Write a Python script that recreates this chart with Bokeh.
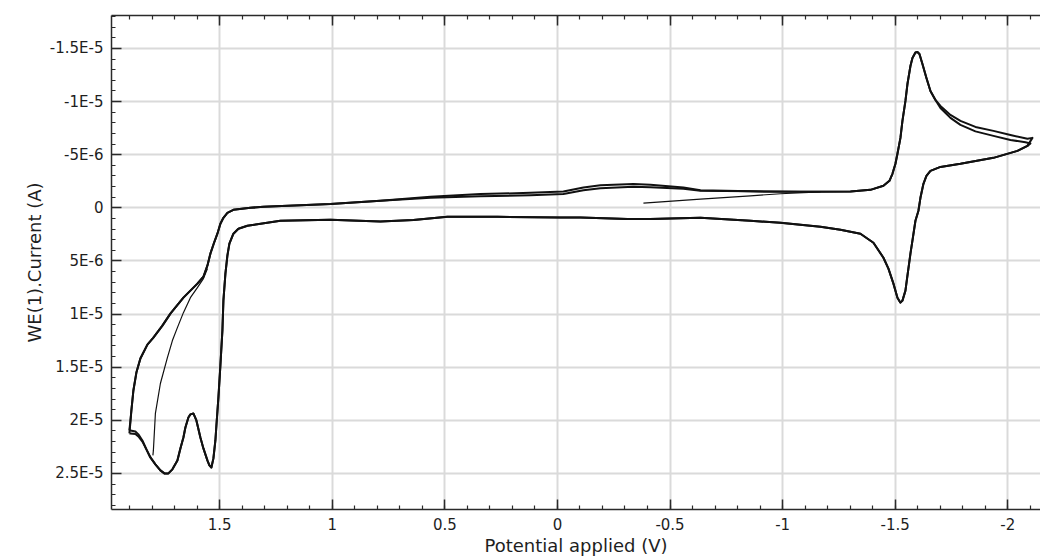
from bokeh.plotting import figure
from bokeh.models import Range1d, FixedTicker, LinearAxis, CustomLabelingPolicy
from bokeh.embed import file_html
from bokeh.resources import INLINE

# ---------------- data (potential in V, current in microamps) ----------------
UA = 1e-6

# cycle 1: forward (upper) branch, from the left switching point to the right one
c1_up_v = [1.9005, 1.8961, 1.8917, 1.8828, 1.8695, 1.8517, 1.8206, 1.7940, 1.7540, 1.7185,
           1.6607, 1.5986, 1.5719, 1.5542, 1.5409, 1.5231, 1.5098, 1.4965, 1.4831, 1.4654,
           1.4387, 1.3632, 1.3055, 1.1412, 1.0080, 0.7860, 0.5639, 0.3419, 0.1199, -0.0266,
           -0.1155, -0.1909, -0.3375, -0.4130, -0.5595, -0.6350, -0.8570, -1.0790, -1.3011, -1.3899,
           -1.4476, -1.4743, -1.4876, -1.5009, -1.5098, -1.5231, -1.5320, -1.5453, -1.5542, -1.5675,
           -1.5764, -1.5897, -1.5986, -1.6075, -1.6208, -1.6385, -1.6563, -1.6785, -1.7007, -1.7451,
           -1.7895, -1.8561, -1.9361, -2.0115, -2.0870, -2.1092]
c1_up_i = [20.96, 20.02, 19.08, 17.20, 15.51, 14.19, 12.88, 12.22, 11.09, 9.96,
           8.46, 7.14, 6.49, 5.45, 4.32, 3.20, 2.44, 1.50, 0.94, 0.47,
           0.19, 0.00, -0.09, -0.24, -0.35, -0.66, -1.03, -1.29, -1.41, -1.53,
           -1.91, -2.13, -2.23, -2.16, -1.91, -1.66, -1.55, -1.52, -1.53, -1.69,
           -2.07, -2.54, -3.20, -4.14, -5.08, -6.58, -8.18, -10.06, -11.65, -13.35,
           -14.10, -14.61, -14.66, -14.47, -13.53, -12.22, -11.00, -10.15, -9.59, -8.74,
           -8.18, -7.61, -7.24, -6.86, -6.49, -6.58]

# cycle 1: reverse (lower) branch, from the right switching point back to the left one
c1_dn_v = [-2.1092, -2.0870, -2.0426, -1.9361, -1.7895, -1.7007, -1.6563, -1.6385, -1.6252, -1.6119,
           -1.6030, -1.5897, -1.5764, -1.5675, -1.5542, -1.5453, -1.5320, -1.5231, -1.5098, -1.4920,
           -1.4698, -1.4476, -1.4032, -1.3455, -1.2567, -1.1679, -1.0790, -0.9902, -0.8570, -0.6350,
           -0.4130, -0.3108, -0.1021, -0.0133, 0.2664, 0.4885, 0.6394, 0.7860, 1.0080, 1.2300,
           1.3766, 1.4165, 1.4387, 1.4565, 1.4654, 1.4742, 1.4831, 1.4876, 1.4965, 1.5053,
           1.5142, 1.5187, 1.5275, 1.5364, 1.5453, 1.5542, 1.5719, 1.5853, 1.6030, 1.6164,
           1.6297, 1.6386, 1.6519, 1.6607, 1.6741, 1.6874, 1.7096, 1.7274, 1.7451, 1.7629,
           1.7851, 1.8073, 1.8250, 1.8428, 1.8606, 1.8739, 1.8961, 1.9005]
c1_dn_i = [-6.58, -5.83, -5.36, -4.70, -4.14, -3.85, -3.48, -3.01, -2.26, -0.94,
           0.28, 1.22, 3.10, 4.32, 6.39, 7.80, 8.74, 8.93, 8.46, 7.14,
           5.73, 4.70, 3.29, 2.44, 2.07, 1.79, 1.60, 1.41, 1.22, 0.94,
           1.06, 1.06, 0.91, 0.91, 0.85, 0.85, 1.16, 1.29, 1.13, 1.22,
           1.69, 1.97, 2.44, 3.38, 4.51, 6.20, 8.74, 11.56, 14.85, 17.86,
           20.49, 21.90, 23.59, 24.44, 24.25, 23.78, 22.65, 21.62, 20.02, 19.36,
           19.45, 19.74, 20.68, 21.62, 22.65, 23.78, 24.62, 25.00, 25.00, 24.72,
           24.15, 23.50, 22.74, 21.90, 21.33, 21.05, 20.96, 20.96]

# cycle 2 (nearly overlapping, slightly offset in a few places)
c2_up_v = [1.9005, 1.8961, 1.8917, 1.8828, 1.8695, 1.8517, 1.8206, 1.7940, 1.7540, 1.7185,
           1.6607, 1.5986, 1.5719, 1.5542, 1.5409, 1.5231, 1.5098, 1.4965, 1.4831, 1.4654,
           1.4387, 1.3632, 1.3055, 1.1412, 1.0080, 0.7860, 0.5639, 0.3419, 0.1199, -0.0266,
           -0.1155, -0.1909, -0.3375, -0.4130, -0.5595, -0.6350, -0.8570, -1.0790, -1.3011, -1.3899,
           -1.4476, -1.4743, -1.4876, -1.5009, -1.5098, -1.5231, -1.5320, -1.5453, -1.5542, -1.5675,
           -1.5764, -1.5897, -1.5986, -1.6075, -1.6208, -1.6385, -1.6563, -1.6785, -1.7007, -1.7451,
           -1.7895, -1.8561, -1.9361, -2.0115, -2.0781, -2.1004]
c2_up_i = [21.24, 20.21, 19.08, 17.20, 15.51, 14.19, 12.88, 12.22, 11.09, 9.96,
           8.46, 7.14, 6.49, 5.45, 4.32, 3.20, 2.44, 1.50, 0.94, 0.47,
           0.19, 0.00, -0.09, -0.24, -0.35, -0.66, -0.94, -1.08, -1.18, -1.29,
           -1.66, -1.85, -1.97, -1.93, -1.79, -1.60, -1.55, -1.52, -1.53, -1.69,
           -2.07, -2.54, -3.20, -4.14, -5.08, -6.58, -8.18, -10.06, -11.65, -13.35,
           -14.10, -14.61, -14.66, -14.47, -13.53, -12.22, -11.00, -10.15, -9.40, -8.46,
           -7.80, -7.19, -6.77, -6.39, -6.16, -6.06]
c2_dn_v = [-2.1004, -2.0870, -2.0426, -1.9361, -1.7895, -1.7007, -1.6563, -1.6385, -1.6252, -1.6119,
           -1.6030, -1.5897, -1.5764, -1.5675, -1.5542, -1.5453, -1.5320, -1.5231, -1.5098, -1.4920,
           -1.4698, -1.4476, -1.4032, -1.3455, -1.2567, -1.1679, -1.0790, -0.9902, -0.8570, -0.6350,
           -0.4130, -0.3108, -0.1021, -0.0133, 0.2664, 0.4885, 0.6394, 0.7860, 1.0080, 1.2300,
           1.3766, 1.4165, 1.4387, 1.4565, 1.4654, 1.4742, 1.4831, 1.4876, 1.4965, 1.5053,
           1.5142, 1.5187, 1.5275, 1.5364, 1.5453, 1.5542, 1.5719, 1.5853, 1.6030, 1.6164,
           1.6297, 1.6386, 1.6519, 1.6607, 1.6741, 1.6874, 1.7096, 1.7274, 1.7451, 1.7629,
           1.7851, 1.8073, 1.8250, 1.8428, 1.8606, 1.8739, 1.8961, 1.9005]
c2_dn_i = [-6.06, -5.83, -5.36, -4.70, -4.14, -3.85, -3.48, -3.01, -2.26, -0.94,
           0.28, 1.22, 3.10, 4.32, 6.39, 7.80, 8.74, 8.93, 8.46, 7.14,
           5.73, 4.70, 3.29, 2.44, 2.07, 1.79, 1.60, 1.41, 1.22, 0.94,
           1.06, 1.06, 0.91, 0.91, 0.85, 0.85, 1.16, 1.29, 1.13, 1.22,
           1.69, 1.97, 2.44, 3.38, 4.51, 6.20, 8.74, 11.56, 14.85, 17.86,
           20.49, 21.90, 23.59, 24.44, 24.25, 23.78, 22.65, 21.62, 20.02, 19.36,
           19.45, 19.74, 20.68, 21.62, 22.65, 23.78, 24.62, 25.00, 25.00, 24.72,
           24.15, 23.50, 22.74, 22.00, 21.52, 21.29, 21.24, 21.24]

# thin inner return branch on the left
inner_v = [1.7962, 1.7940, 1.7851, 1.7629, 1.7318, 1.7096, 1.6874, 1.6607, 1.6297, 1.5986, 1.5719, 1.5542]
inner_i = [23.31, 22.84, 19.36, 16.54, 14.10, 12.50, 11.28, 9.87, 8.46, 7.52, 6.67, 5.73]

# thin starting segment of the first scan
start_v = [-0.3819, -0.6350, -0.8570, -0.9902, -1.1679]
start_i = [-0.44, -0.82, -1.13, -1.32, -1.49]

# axis ticks
x_major = [1.5, 1.0, 0.5, 0.0, -0.5, -1.0, -1.5, -2.0]
x_labels = ["1.5", "1", "0.5", "0", "-0.5", "-1", "-1.5", "-2"]
y_major = [-1.5e-5, -1e-5, -5e-6, 0.0, 5e-6, 1e-5, 1.5e-5, 2e-5, 2.5e-5]
y_labels = ["-1.5E-5", "-1E-5", "-5E-6", "0", "5E-6", "1E-5", "1.5E-5", "2E-5", "2.5E-5"]
x_minor = [round(0.1 * k, 1) for k in range(-21, 20)]
y_minor = [k * 1e-6 for k in range(-18, 29)]

# ---------------- figure ----------------
FONT = "DejaVu Sans"
INK = "#1e1e1e"

p = figure(width=1040, height=560,
           x_range=Range1d(1.98, -2.145), y_range=Range1d(2.84e-5, -1.81e-5),
           output_backend="svg", toolbar_location=None,
           min_border_left=111, min_border_right=0, min_border_top=15, min_border_bottom=51,
           x_axis_label="Potential applied (V)", y_axis_label="WE(1).Current (A)")
p.outline_line_color = None
p.background_fill_color = "white"

xt = FixedTicker(ticks=x_major, minor_ticks=x_minor)
yt = FixedTicker(ticks=y_major, minor_ticks=y_minor)

bottom = p.below[0]
left = p.left[0]
bottom.ticker = xt
left.ticker = yt
bottom.major_label_overrides = dict(zip(x_major, x_labels))
left.major_label_overrides = dict(zip(y_major, y_labels))

top = LinearAxis(ticker=xt, major_label_standoff=0,
                 major_label_policy=CustomLabelingPolicy(code="return new Set()"))
p.add_layout(top, "above")

for ax in [bottom, left, top]:
    ax.axis_line_color = "#2a2a2a"
    ax.axis_line_width = 1.5
    ax.major_tick_line_color = "#2a2a2a"
    ax.minor_tick_line_color = "#2a2a2a"
    ax.major_tick_line_width = 1.5
    ax.minor_tick_line_width = 1.2
    ax.major_tick_in = 10
    ax.major_tick_out = 0
    ax.minor_tick_in = 4
    ax.minor_tick_out = 0

for ax in [bottom, left]:
    ax.major_label_text_font = FONT
    ax.major_label_text_color = INK
    ax.major_label_text_font_size = "15px"
    ax.major_label_standoff = 8
    ax.axis_label_text_font = FONT
    ax.axis_label_text_color = INK
    ax.axis_label_text_font_style = "normal"
    ax.axis_label_text_font_size = "18px"
    ax.axis_label_standoff = 2

p.xgrid.grid_line_color = "#dadada"
p.ygrid.grid_line_color = "#dadada"
p.xgrid.grid_line_width = 2
p.ygrid.grid_line_width = 2

def amps(vals):
    return [v * UA for v in vals]

p.line(c1_up_v + c1_dn_v, amps(c1_up_i + c1_dn_i), line_color="#111111", line_width=2.0, line_join="round")
p.line(c2_up_v + c2_dn_v, amps(c2_up_i + c2_dn_i), line_color="#111111", line_width=2.0, line_join="round")
p.line(inner_v, amps(inner_i), line_color="#111111", line_width=1.2, line_join="round")
p.line(start_v, amps(start_i), line_color="#111111", line_width=1.2, line_join="round")

open("out.html", "w").write(file_html(p, INLINE))
